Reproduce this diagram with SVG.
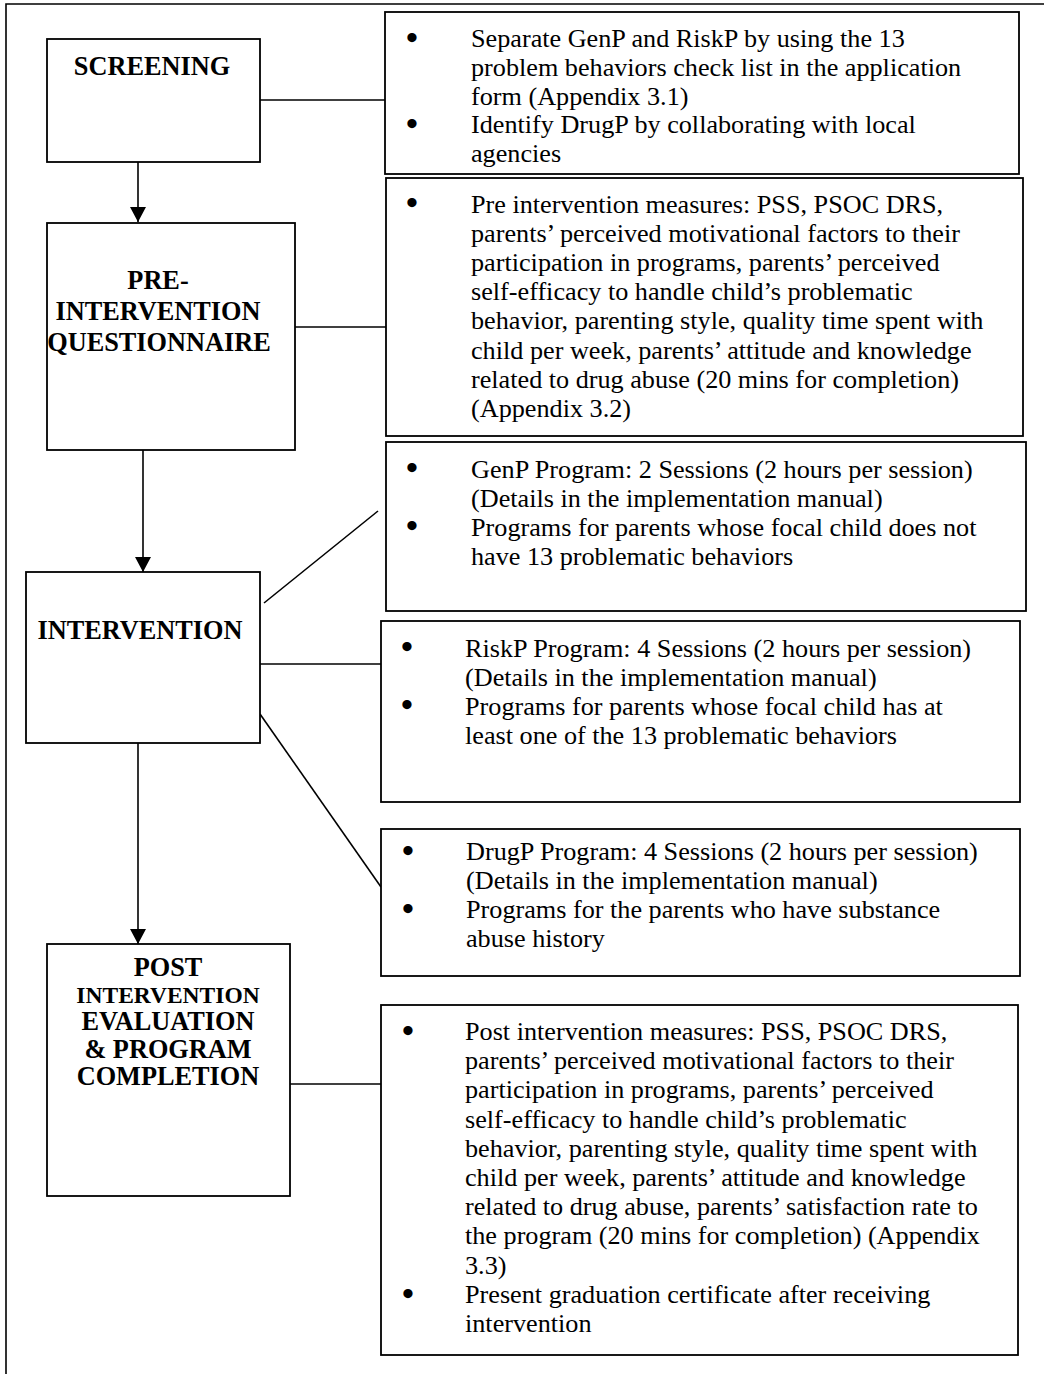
<svg xmlns="http://www.w3.org/2000/svg" width="1044" height="1374" viewBox="0 0 1044 1374">
  <defs>
    <style>
      .box { fill: #fff; stroke: #000; stroke-width: 1.8; }
      .ln { fill: none; stroke: #000; stroke-width: 1.6; }
      .hd { font-family: "Liberation Serif", "Times New Roman", serif; font-weight: bold; font-size: 26.3px; fill: #000; text-anchor: middle; }
      .tx { font-family: "Liberation Serif", "Times New Roman", serif; font-size: 26.2px; fill: #000; }
      .bl { font-family: "Liberation Serif", "Times New Roman", serif; font-size: 34px; font-weight: bold; fill: #000; text-anchor: middle; }
    </style>
    <marker id="arr" markerWidth="16" markerHeight="16" refX="15" refY="8" orient="auto" markerUnits="userSpaceOnUse">
      <path d="M0,0 L15,8 L0,16 Z" fill="#000"/>
    </marker>
  </defs>
  <rect x="0" y="0" width="1044" height="1374" fill="#fff"/>

  <!-- outer frame (open on right and bottom) -->
  <path class="ln" d="M6,1374 L6,4 L1044,4"/>

  <!-- connectors -->
  <g id="connectors">
    <line class="ln" x1="138" y1="162" x2="138" y2="222" marker-end="url(#arr)"/>
    <line class="ln" x1="143" y1="450" x2="143" y2="572" marker-end="url(#arr)"/>
    <line class="ln" x1="138" y1="743" x2="138" y2="944" marker-end="url(#arr)"/>
    <line class="ln" x1="260" y1="100" x2="385" y2="100"/>
    <line class="ln" x1="295" y1="327" x2="386" y2="327"/>
    <line class="ln" x1="264" y1="603" x2="378" y2="511"/>
    <line class="ln" x1="260" y1="664" x2="381" y2="664"/>
    <line class="ln" x1="260" y1="714" x2="381" y2="887"/>
    <line class="ln" x1="290" y1="1084" x2="381" y2="1084"/>
  </g>

  <!-- left-hand steps -->
  <g id="screening">
    <rect class="box" x="47" y="39" width="213" height="123"/>
    <text class="hd" x="152" y="75">SCREENING</text>
  </g>
  <g id="pre-intervention">
    <rect class="box" x="47" y="223" width="248" height="227"/>
    <text class="hd" x="158" y="289">PRE-</text>
    <text class="hd" x="158" y="320">INTERVENTION</text>
    <text class="hd" x="159" y="351">QUESTIONNAIRE</text>
  </g>
  <g id="intervention">
    <rect class="box" x="26" y="572" width="234" height="171"/>
    <text class="hd" x="140" y="639">INTERVENTION</text>
  </g>
  <g id="post-intervention">
    <rect class="box" x="47" y="944" width="243" height="252"/>
    <text class="hd" x="168" y="976">POST</text>
    <text class="hd" x="168" y="1003" style="font-size:23.5px">INTERVENTION</text>
    <text class="hd" x="168" y="1030">EVALUATION</text>
    <text class="hd" x="168" y="1057.5">&amp; PROGRAM</text>
    <text class="hd" x="168" y="1085">COMPLETION</text>
  </g>

  <!-- right-hand detail boxes -->
  <g id="screening-details">
    <rect class="box" x="385" y="12" width="634" height="162"/>
    <text class="bl" x="412" y="49">•</text>
    <text class="tx" x="471" y="47.3">Separate GenP and RiskP by using the 13</text>
    <text class="tx" x="471" y="75.9">problem behaviors check list in the application</text>
    <text class="tx" x="471" y="104.5">form (Appendix 3.1)</text>
    <text class="bl" x="412" y="134.8">•</text>
    <text class="tx" x="471" y="133.1">Identify DrugP by collaborating with local</text>
    <text class="tx" x="471" y="161.7">agencies</text>
  </g>

  <g id="pre-details">
    <rect class="box" x="386" y="178" width="637" height="258"/>
    <text class="bl" x="412" y="214.2">•</text>
    <text class="tx" x="471" y="212.5">Pre intervention measures: PSS, PSOC DRS,</text>
    <text class="tx" x="471" y="241.7">parents’ perceived motivational factors to their</text>
    <text class="tx" x="471" y="270.9">participation in programs, parents’ perceived</text>
    <text class="tx" x="471" y="300.1">self-efficacy to handle child’s problematic</text>
    <text class="tx" x="471" y="329.3">behavior, parenting style, quality time spent with</text>
    <text class="tx" x="471" y="358.5">child per week, parents’ attitude and knowledge</text>
    <text class="tx" x="471" y="387.7">related to drug abuse (20 mins for completion)</text>
    <text class="tx" x="471" y="416.9">(Appendix 3.2)</text>
  </g>

  <g id="genp-details">
    <rect class="box" x="386" y="442" width="640" height="169"/>
    <text class="bl" x="412" y="479.2">•</text>
    <text class="tx" x="471" y="477.5">GenP Program: 2 Sessions (2 hours per session)</text>
    <text class="tx" x="471" y="506.5">(Details in the implementation manual)</text>
    <text class="bl" x="412" y="537.2">•</text>
    <text class="tx" x="471" y="535.5">Programs for parents whose focal child does not</text>
    <text class="tx" x="471" y="564.5">have 13 problematic behaviors</text>
  </g>

  <g id="riskp-details">
    <rect class="box" x="381" y="621" width="639" height="181"/>
    <text class="bl" x="407" y="658.2">•</text>
    <text class="tx" x="465" y="656.5">RiskP Program: 4 Sessions (2 hours per session)</text>
    <text class="tx" x="465" y="685.5">(Details in the implementation manual)</text>
    <text class="bl" x="407" y="716.2">•</text>
    <text class="tx" x="465" y="714.5">Programs for parents whose focal child has at</text>
    <text class="tx" x="465" y="743.5">least one of the 13 problematic behaviors</text>
  </g>

  <g id="drugp-details">
    <rect class="box" x="381" y="829" width="639" height="147"/>
    <text class="bl" x="408" y="861.7">•</text>
    <text class="tx" x="466" y="860">DrugP Program: 4 Sessions (2 hours per session)</text>
    <text class="tx" x="466" y="889">(Details in the implementation manual)</text>
    <text class="bl" x="408" y="919.7">•</text>
    <text class="tx" x="466" y="918">Programs for the parents who have substance</text>
    <text class="tx" x="466" y="947">abuse history</text>
  </g>

  <g id="post-details">
    <rect class="box" x="381" y="1005" width="637" height="350"/>
    <text class="bl" x="408" y="1041.7">•</text>
    <text class="tx" x="465" y="1040">Post intervention measures: PSS, PSOC DRS,</text>
    <text class="tx" x="465" y="1069.2">parents’ perceived motivational factors to their</text>
    <text class="tx" x="465" y="1098.4">participation in programs, parents’ perceived</text>
    <text class="tx" x="465" y="1127.6">self-efficacy to handle child’s problematic</text>
    <text class="tx" x="465" y="1156.8">behavior, parenting style, quality time spent with</text>
    <text class="tx" x="465" y="1186">child per week, parents’ attitude and knowledge</text>
    <text class="tx" x="465" y="1215.2">related to drug abuse, parents’ satisfaction rate to</text>
    <text class="tx" x="465" y="1244.4">the program (20 mins for completion) (Appendix</text>
    <text class="tx" x="465" y="1273.6">3.3)</text>
    <text class="bl" x="408" y="1304.5">•</text>
    <text class="tx" x="465" y="1302.8">Present graduation certificate after receiving</text>
    <text class="tx" x="465" y="1332">intervention</text>
  </g>
</svg>
